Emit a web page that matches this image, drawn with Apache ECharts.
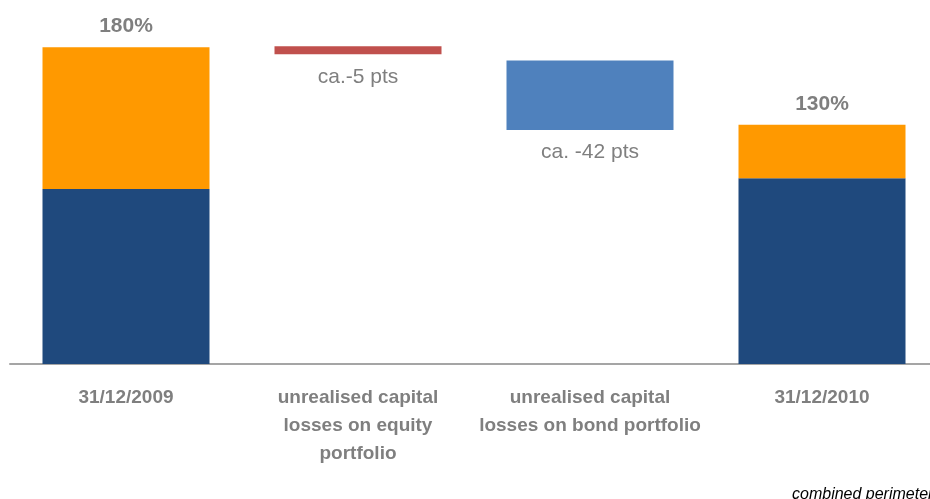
<!DOCTYPE html>
<html>
<head>
<meta charset="utf-8">
<script src="https://cdn.jsdelivr.net/npm/echarts@6/dist/echarts.min.js"></script>
<style>
html, body { margin: 0; padding: 0; background: #fff; }
#chart { width: 930px; height: 499px; }
</style>
</head>
<body>
<div id="chart"></div>
<script>
// categories on the x axis
var categories = [
    '31/12/2009',
    'unrealised capital\nlosses on equity\nportfolio',
    'unrealised capital\nlosses on bond portfolio',
    '31/12/2010'
];
// invisible floor under the floating bars
var baseValues = [0, 176, 133, 0];
// dark blue lower part of the totals
var darkValues = [99.5, '-', '-', 105.5];
// orange upper part of the totals
var orangeValues = [80.5, '-', '-', 30.5];
// the two losses
var equityLoss = ['-', 4.6, '-', '-'];
var bondLoss = ['-', '-', 39.5, '-'];
// labels
var totalLabels = ['180%', '', '', '130%'];
var lossLabels = ['', 'ca.-5 pts', 'ca. -42 pts', ''];

var grey = '#7f7f7f';
var chart = echarts.init(document.getElementById('chart'));
chart.setOption({
    animation: false,
    backgroundColor: '#fff',
    title: {
        text: 'combined perimeter',
        left: 787,
        top: 482,
        textStyle: {
            fontFamily: 'Liberation Sans',
            fontStyle: 'italic',
            fontWeight: 'normal',
            fontSize: 16,
            color: '#000'
        }
    },
    grid: { left: 10, width: 928, top: 12, bottom: 135, outerBoundsMode: 'none', containLabel: false },
    xAxis: {
        type: 'category',
        data: categories,
        axisTick: { show: false },
        axisLine: { lineStyle: { color: '#a5a5a5', width: 2 } },
        axisLabel: {
            interval: 0,
            margin: 20,
            lineHeight: 28,
            color: grey,
            fontFamily: 'Liberation Sans',
            fontWeight: 'bold',
            fontSize: 19
        }
    },
    yAxis: {
        type: 'value',
        min: 0,
        max: 200,
        show: false,
        splitLine: { show: false }
    },
    series: [
        {
            name: 'base',
            type: 'bar',
            stack: 'total',
            barWidth: 167,
            itemStyle: { color: 'transparent' },
            data: baseValues
        },
        {
            name: 'dark',
            type: 'bar',
            stack: 'total',
            itemStyle: { color: '#1f497d' },
            data: darkValues
        },
        {
            name: 'orange',
            type: 'bar',
            stack: 'total',
            itemStyle: { color: '#ff9900' },
            label: {
                show: true,
                position: 'top',
                distance: 10,
                formatter: function (p) { return totalLabels[p.dataIndex]; },
                color: grey,
                fontFamily: 'Liberation Sans',
                fontWeight: 'bold',
                fontSize: 21
            },
            data: orangeValues
        },
        {
            name: 'equity',
            type: 'bar',
            stack: 'total',
            itemStyle: { color: '#c0504d' },
            label: {
                show: true,
                position: 'bottom',
                distance: 12,
                formatter: function (p) { return lossLabels[p.dataIndex]; },
                color: grey,
                fontFamily: 'Liberation Sans',
                fontSize: 21
            },
            data: equityLoss
        },
        {
            name: 'bond',
            type: 'bar',
            stack: 'total',
            itemStyle: { color: '#4f81bd' },
            label: {
                show: true,
                position: 'bottom',
                distance: 12,
                formatter: function (p) { return lossLabels[p.dataIndex]; },
                color: grey,
                fontFamily: 'Liberation Sans',
                fontSize: 21
            },
            data: bondLoss
        }
    ]
});
</script>
</body>
</html>
